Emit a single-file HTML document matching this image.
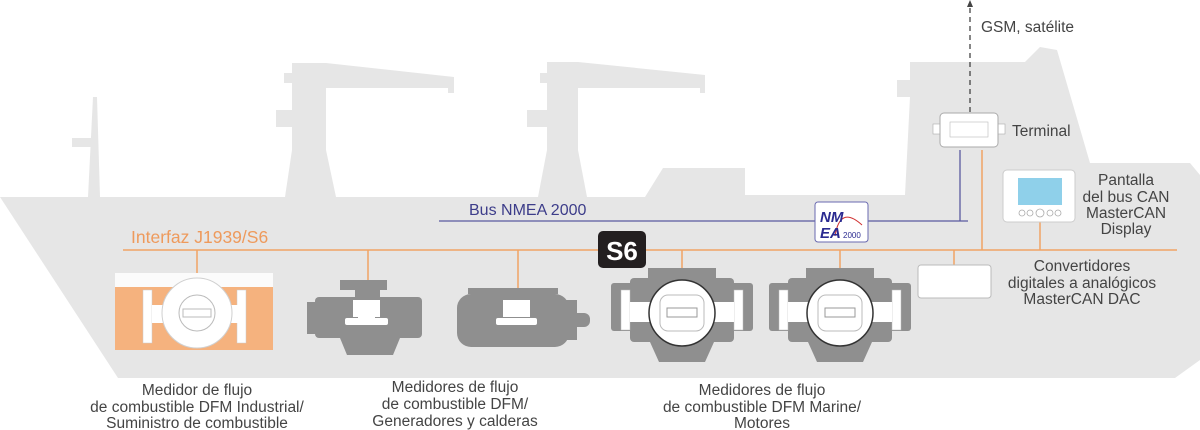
<!DOCTYPE html>
<html><head><meta charset="utf-8"><style>
html,body{margin:0;padding:0;background:#fff;}
svg{display:block;}
text{font-family:"Liberation Sans",sans-serif;}
</style></head><body>
<svg width="1200" height="430" viewBox="0 0 1200 430" xmlns="http://www.w3.org/2000/svg">
<g fill="#e6e6e6">
<polygon points="0,197 645,197 663,168 745,168 745,195 905,195 910,97 897,97 897,80 910,80 910,62 1025,62 1040,47 1057,50 1090,163 1190,163 1200,175 1200,360 1175,378 118,378"/>
<polygon points="93,97 97,97 100,197 88,197"/>
<rect x="72" y="138" width="26" height="9"/>
<polygon points="292,63 326,63 454,77 454,93 448,93 448,88 326,88 326,150 336,197 285,197 292,150"/>
<rect x="276" y="110" width="20" height="17"/>
<rect x="284" y="73" width="10" height="10"/>
<polygon points="547,62 578,62 705,75 705,93 700,93 700,88 578,88 578,150 587,197 538,197 547,150"/>
<rect x="527" y="110" width="24" height="17"/>
<rect x="540" y="73" width="10" height="10"/>
</g>
<line x1="123" y1="250" x2="1177" y2="250" stroke="#f0a465" stroke-width="1.5"/>
<line x1="197" y1="250" x2="197" y2="274" stroke="#f0a465" stroke-width="1.5"/>
<line x1="368" y1="250" x2="368" y2="298" stroke="#f0a465" stroke-width="1.5"/>
<line x1="518" y1="250" x2="518" y2="298" stroke="#f0a465" stroke-width="1.5"/>
<line x1="682" y1="250" x2="682" y2="276" stroke="#f0a465" stroke-width="1.5"/>
<line x1="840" y1="250" x2="840" y2="276" stroke="#f0a465" stroke-width="1.5"/>
<line x1="954" y1="250" x2="954" y2="266" stroke="#f0a465" stroke-width="1.5"/>
<line x1="982" y1="150" x2="982" y2="250" stroke="#f0a465" stroke-width="1.5"/>
<line x1="1040" y1="222" x2="1040" y2="250" stroke="#f0a465" stroke-width="1.5"/>
<line x1="439" y1="221" x2="968" y2="221" stroke="#5a5aa0" stroke-width="1.3"/>
<line x1="960" y1="150" x2="960" y2="221" stroke="#5a5aa0" stroke-width="1.3"/>
<line x1="970" y1="8" x2="970" y2="113" stroke="#444" stroke-width="1.3" stroke-dasharray="5,4"/>
<polygon points="970,0 967,7 973,7" fill="#444"/>

<rect x="115" y="273" width="158" height="14" fill="#fbfbfb"/>
<rect x="115" y="287" width="158" height="63" fill="#f5b27e"/>
<rect x="143" y="290" width="9" height="53" fill="#fff" stroke="#ccc" stroke-width="0.5"/>
<rect x="237" y="290" width="9" height="53" fill="#fff" stroke="#ccc" stroke-width="0.5"/>
<rect x="152" y="305" width="90" height="18" fill="#fff"/>
<circle cx="197" cy="313" r="35" fill="#fff" stroke="#d0d0d0"/>
<circle cx="197" cy="313" r="18" fill="#fff" stroke="#bbb"/>
<rect x="183" y="309" width="28" height="8" fill="#fff" stroke="#bbb"/>

<g fill="#8f8f8f">
<rect x="340" y="280" width="47" height="10"/>
<rect x="355" y="288" width="25" height="10"/>
<rect x="315" y="297" width="107" height="41" rx="4"/>
<rect x="307" y="302" width="10" height="32"/>
<polygon points="340,338 400,338 393,355 347,355"/>
</g>
<rect x="353" y="300" width="27" height="17" fill="#fff"/>
<rect x="345" y="318" width="43" height="7" fill="#fff" rx="2"/>
<rect x="358" y="315" width="17" height="6" fill="#fff"/>

<g fill="#8f8f8f">
<rect x="468" y="288" width="90" height="6"/>
<rect x="457" y="294" width="112" height="53" rx="14"/>
<rect x="565" y="300" width="12" height="40"/>
<rect x="570" y="313" width="20" height="14" rx="6"/>
</g>
<rect x="503" y="300" width="27" height="17" fill="#fff"/>
<rect x="496" y="318" width="41" height="7" fill="#fff" rx="2"/>

<g id="m">
<g fill="#8f8f8f">
<rect x="648" y="268" width="68" height="10"/>
<rect x="630" y="278" width="104" height="64" rx="4"/>
<rect x="611" y="283" width="142" height="48" rx="3"/>
<polygon points="650,342 714,342 705,362 659,362"/>
</g>
<rect x="621" y="290" width="9" height="40" fill="#fff" stroke="#bbb" stroke-width="0.5"/>
<rect x="734" y="290" width="9" height="40" fill="#fff" stroke="#bbb" stroke-width="0.5"/>
<rect x="630" y="302" width="104" height="20" fill="#fff"/>
<circle cx="682" cy="313" r="33" fill="#fff" stroke="#333" stroke-width="1.5"/>
<rect x="660" y="295" width="44" height="36" rx="8" fill="#fff" stroke="#bbb"/>
<rect x="667" y="308" width="30" height="9" fill="#fff" stroke="#999"/>
</g>
<use href="#m" x="158"/>

<rect x="918" y="265" width="73" height="33" rx="3" fill="#fff" stroke="#bbb"/>
<rect x="1003" y="170" width="72" height="52" rx="4" fill="#fff" stroke="#ccc"/>
<rect x="1018" y="178" width="44" height="27" fill="#8fd0ea"/>
<g fill="none" stroke="#aaa" stroke-width="0.8">
<circle cx="1022" cy="213" r="3"/><circle cx="1030" cy="213" r="3"/><ellipse cx="1040" cy="213" rx="4" ry="4"/><circle cx="1050" cy="213" r="3"/><circle cx="1058" cy="213" r="3"/>
</g>
<rect x="933" y="124" width="72" height="10" fill="#fff" stroke="#aaa" stroke-width="0.6"/>
<rect x="940" y="113" width="58" height="34" rx="4" fill="#fff" stroke="#aaa"/>
<rect x="950" y="122" width="38" height="15" fill="#fff" stroke="#bbb" stroke-width="0.6"/>

<rect x="815" y="202" width="53" height="40" rx="3" fill="#fff" stroke="#6a6ab0"/>
<path d="M835,236 Q840,205 862,225" fill="none" stroke="#d03030" stroke-width="1"/>
<text x="820" y="222" font-size="15" font-weight="bold" font-style="italic" fill="#2a2a90">NM</text>
<text x="820" y="238" font-size="15" font-weight="bold" font-style="italic" fill="#2a2a90">EA</text>
<text x="843" y="238" font-size="8" fill="#2a2a90" font-family="Liberation Serif">2000</text>

<rect x="598" y="231" width="48" height="37" rx="5" fill="#231f20"/>
<text x="622" y="260" font-size="26" font-weight="bold" fill="#fff" text-anchor="middle">S6</text>

<text x="469" y="215" font-size="16" fill="#3d3d8a">Bus NMEA 2000</text>
<text x="131" y="243" font-size="17.5" fill="#ee9a5c">Interfaz J1939/S6</text>
<g font-size="15.5" fill="#444">
<text x="981" y="32">GSM, satélite</text>
<text x="1012" y="136">Terminal</text>
</g>
<g font-size="15.5" fill="#444" text-anchor="middle">
<text x="1126" y="185">Pantalla</text>
<text x="1126" y="202">del bus CAN</text>
<text x="1126" y="218">MasterCAN</text>
<text x="1126" y="234">Display</text>
<text x="1082" y="271">Convertidores</text>
<text x="1082" y="288">digitales a analógicos</text>
<text x="1082" y="304">MasterCAN DAC</text>
<text x="197" y="395">Medidor de flujo</text>
<text x="197" y="412">de combustible DFM Industrial/</text>
<text x="197" y="428">Suministro de combustible</text>
<text x="455" y="392">Medidores de flujo</text>
<text x="455" y="409">de combustible DFM/</text>
<text x="455" y="426">Generadores y calderas</text>
<text x="762" y="395">Medidores de flujo</text>
<text x="762" y="412">de combustible DFM Marine/</text>
<text x="762" y="428">Motores</text>
</g>
</svg>
</body></html>
